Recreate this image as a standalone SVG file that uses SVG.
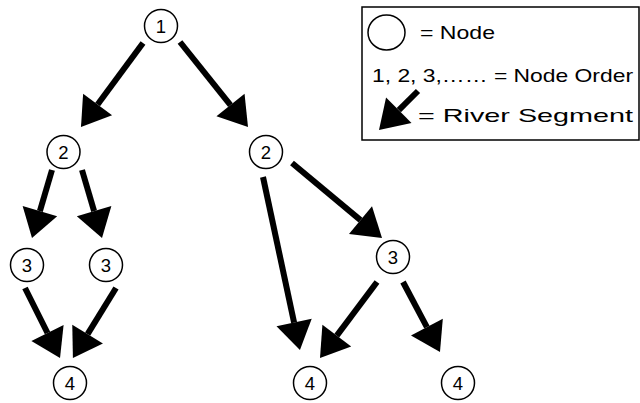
<svg xmlns="http://www.w3.org/2000/svg" width="640" height="403" viewBox="0 0 640 403">
<style>
.node circle{fill:#fff;stroke:#000;stroke-width:1.5}
.node text{font-family:"Liberation Sans",Arial,sans-serif;font-size:18.5px;fill:#000;text-anchor:middle}
.seg{stroke:#000;stroke-width:6;fill:none;marker-end:url(#head)}
.leg{font-family:"Liberation Sans",Arial,sans-serif;font-size:19px;fill:#000}
</style>
<defs>
<marker id="head" markerUnits="userSpaceOnUse" markerWidth="30" markerHeight="40" refX="0" refY="18" orient="auto" overflow="visible">
<path d="M0,0 L28,18 L0,36 z" fill="#000"/>
</marker>
</defs>
<rect width="640" height="403" fill="#fff"/>
<g id="connectors">
<line class="seg" x1="143" y1="43" x2="97.6" y2="104.5"/>
<line class="seg" x1="180" y1="42" x2="230.5" y2="105.1"/>
<line class="seg" x1="52" y1="170" x2="39.9" y2="211.1"/>
<line class="seg" x1="82" y1="170" x2="94.1" y2="211.1"/>
<line class="seg" x1="25" y1="288" x2="47.5" y2="333"/>
<line class="seg" x1="116" y1="288" x2="87.6" y2="334.1"/>
<line class="seg" x1="263" y1="177" x2="294.1" y2="322.6"/>
<line class="seg" x1="292" y1="163" x2="360.5" y2="220.1"/>
<line class="seg" x1="377" y1="282" x2="336.8" y2="335.6"/>
<line class="seg" x1="403" y1="282" x2="426.9" y2="327.2"/>
</g>
<g id="n1" class="node"><circle cx="161" cy="26" r="16.5"/><text x="161" y="32.5">1</text></g>
<g id="n2a" class="node"><circle cx="63.5" cy="152" r="16.5"/><text x="63.5" y="158.5">2</text></g>
<g id="n2b" class="node"><circle cx="266" cy="152" r="16.5"/><text x="266" y="158.5">2</text></g>
<g id="n3a" class="node"><circle cx="27" cy="265" r="16.5"/><text x="27" y="271.5">3</text></g>
<g id="n3b" class="node"><circle cx="106" cy="265" r="16.5"/><text x="106" y="271.5">3</text></g>
<g id="n3c" class="node"><circle cx="393" cy="257" r="16.5"/><text x="393" y="263.5">3</text></g>
<g id="n4a" class="node"><circle cx="70" cy="383" r="16.5"/><text x="70" y="389.5">4</text></g>
<g id="n4b" class="node"><circle cx="310" cy="383" r="16.5"/><text x="310" y="389.5">4</text></g>
<g id="n4c" class="node"><circle cx="458" cy="383" r="16.5"/><text x="458" y="389.5">4</text></g>
<g id="legend">
<rect x="362" y="7" width="277" height="133" fill="#fff" stroke="#000" stroke-width="1.5"/>
<ellipse cx="386.5" cy="32.5" rx="18.5" ry="17.5" fill="#fff" stroke="#000" stroke-width="1.5"/>
<text class="leg" x="420" y="39" textLength="75" lengthAdjust="spacingAndGlyphs">= Node</text>
<text class="leg" x="372" y="82" textLength="261" lengthAdjust="spacingAndGlyphs">1, 2, 3,…… = Node Order</text>
<line class="seg" x1="418" y1="91" x2="398.8" y2="110.2"/>
<text class="leg" x="418" y="122" textLength="215" lengthAdjust="spacingAndGlyphs">= River Segment</text>
</g>
</svg>
